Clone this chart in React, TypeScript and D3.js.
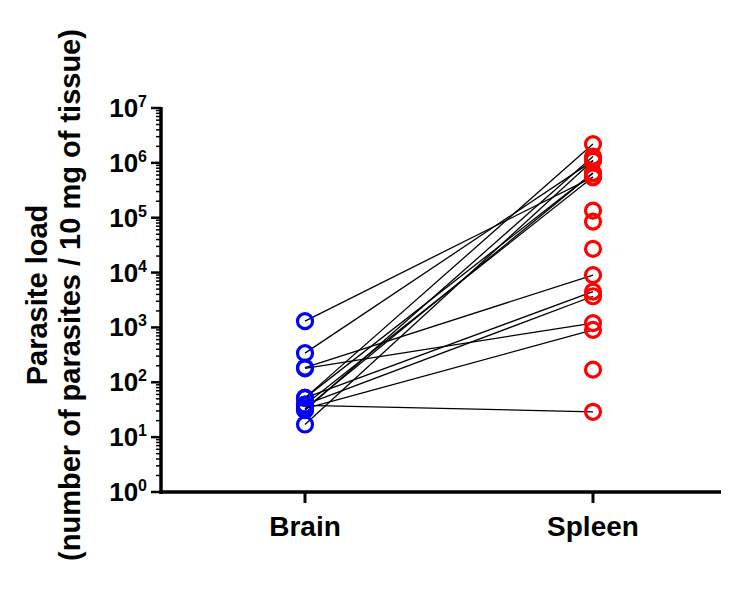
import React from 'react';
import * as d3 from 'd3';

const width = 729;
const height = 592;

const categories = ['Brain', 'Spleen'];

// paired samples: brain value i goes with spleen value i
const brainLoad = [1300, 340, 185, 180, 52, 52, 39, 38, 33, 31, 33, 17, 39, 52];
const spleenLoad = [550000, 1100000, 9000, 1200, 4500, 2200000, 3700, 29, 900, 1300000, 650000, 1100000, 550000, 650000];

// spleen samples with no brain value
const spleenOnly = [135000, 85000, 27000, 170];

const tickExponents = [0, 1, 2, 3, 4, 5, 6, 7];

const font = 'Arial, "Liberation Sans", Helvetica, sans-serif';

export default class App extends React.Component {

    node: SVGSVGElement | null = null;

    componentDidMount(){
        this.drawChart();
    }

    drawChart(){

        const svg = d3.select(this.node);
        svg.selectAll('*').remove();

        const y = d3.scaleLog().domain([1, 1e7]).range([492, 108]);
        const x = d3.scalePoint().domain(categories).range([305, 593]);
        const axisX = 161;

        // minor ticks
        const minors: number[] = [];
        for (let e = 0; e < 7; e++) {
            for (let m = 2; m <= 9; m++) minors.push(m * Math.pow(10, e));
        }
        svg.append('g').selectAll('line').data(minors).join('line')
            .attr('x1', axisX - 5).attr('x2', axisX)
            .attr('y1', d => y(d)).attr('y2', d => y(d))
            .attr('stroke', 'black').attr('stroke-width', 1.5);

        // major ticks + labels
        const major = svg.append('g').selectAll('g').data(tickExponents).join('g')
            .attr('transform', d => `translate(0,${y(Math.pow(10, d))})`);
        major.append('line')
            .attr('x1', axisX - 10).attr('x2', axisX)
            .attr('stroke', 'black').attr('stroke-width', 2.5);
        const lbl = major.append('text')
            .attr('x', 147).attr('y', 9)
            .attr('text-anchor', 'end')
            .style('font-family', font).style('font-weight', 'bold').style('font-size', '26px');
        lbl.append('tspan').text('10');
        lbl.append('tspan').attr('dy', -10).style('font-size', '16px').text(d => String(d));

        // axis lines
        svg.append('line')
            .attr('x1', axisX).attr('x2', axisX)
            .attr('y1', y(1e7) - 1).attr('y2', 494)
            .attr('stroke', 'black').attr('stroke-width', 3.5);
        svg.append('line')
            .attr('x1', axisX - 1.5).attr('x2', 721)
            .attr('y1', 492).attr('y2', 492)
            .attr('stroke', 'black').attr('stroke-width', 3.5);

        // x ticks + labels
        const xt = svg.append('g').selectAll('g').data(categories).join('g')
            .attr('transform', d => `translate(${x(d)},0)`);
        xt.append('line').attr('y1', 492).attr('y2', 503)
            .attr('stroke', 'black').attr('stroke-width', 3);
        xt.append('text').attr('y', 536).attr('text-anchor', 'middle')
            .style('font-family', font).style('font-weight', 'bold').style('font-size', '28px')
            .text(d => d);

        // y title
        const title = svg.append('text')
            .attr('transform', 'translate(47,295) rotate(-90)')
            .attr('text-anchor', 'middle')
            .style('font-family', font).style('font-weight', 'bold').style('font-size', '29px');
        title.append('tspan').attr('x', 0).attr('y', 0).text('Parasite load');
        title.append('tspan').attr('x', 0).attr('y', 33).text('(number of parasites / 10 mg of tissue)');

        // connecting lines
        svg.append('g').selectAll('line').data(brainLoad).join('line')
            .attr('x1', x('Brain')!).attr('x2', x('Spleen')!)
            .attr('y1', d => y(d)).attr('y2', (d, i) => y(spleenLoad[i]))
            .attr('stroke', 'black').attr('stroke-width', 1.3);

        // points
        svg.append('g').selectAll('circle').data(brainLoad).join('circle')
            .attr('cx', x('Brain')!).attr('cy', d => y(d)).attr('r', 7.5)
            .attr('fill', 'none').attr('stroke', '#0000ff').attr('stroke-width', 3.2);
        svg.append('g').selectAll('circle').data(spleenLoad.concat(spleenOnly)).join('circle')
            .attr('cx', x('Spleen')!).attr('cy', d => y(d)).attr('r', 7.5)
            .attr('fill', 'none').attr('stroke', '#ff0000').attr('stroke-width', 3.2);
    }

    render() {
        return (
            <svg ref={node => { this.node = node; }} width={width} height={height}
                style={{ position: 'absolute', left: 0, top: 0, background: 'white' }} />
        );
    }
}
